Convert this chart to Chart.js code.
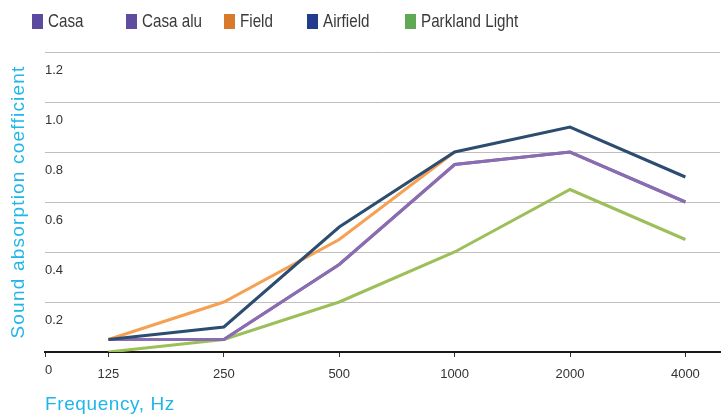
<!DOCTYPE html>
<html><head><meta charset="utf-8">
<script src="https://cdn.jsdelivr.net/npm/chart.js@4.4.1/dist/chart.umd.min.js"></script>
<style>
html,body{margin:0;padding:0;background:#fff;}
#wrap{position:relative;width:723px;height:416px;}
#legend{position:absolute;left:0;top:0;width:723px;height:44px;}
.li{position:absolute;top:10px;height:22px;display:flex;align-items:center;font-family:"Liberation Sans",Arial,sans-serif;font-size:19px;color:#3a3a3a;white-space:nowrap;}
.li i{display:inline-block;width:11px;height:15px;margin-right:5px;}
.li span{display:inline-block;transform:scaleX(0.8);transform-origin:left center;}
</style></head><body>
<div id="wrap"><canvas id="c" width="723" height="416"></canvas><div id="legend"></div></div>
<script>
// ---- data ----
const FREQUENCIES = ['125', '250', '500', '1000', '2000', '4000'];
const SERIES_NAMES = ['Casa', 'Casa alu', 'Field', 'Airfield', 'Parkland Light'];
const CASA = [0.05, 0.05, 0.35, 0.75, 0.80, 0.60];
const CASA_ALU = [0.05, 0.05, 0.35, 0.75, 0.80, 0.60];
const FIELD = [0.05, 0.20, 0.45, 0.80, null, null];
const AIRFIELD = [0.05, 0.10, 0.50, 0.80, 0.90, 0.70];
const PARKLAND_LIGHT = [0.00, 0.05, 0.20, 0.40, 0.65, 0.45];
const Y_MIN = 0, Y_MAX = 1.2, Y_STEP = 0.2;

// ---- styles ----
const LEGEND_COLORS = ['#5b4a9d', '#5f4ba0', '#d9792b', '#233b8c', '#5fa956'];
const LINE_COLORS = ['#8a6db0', '#8a6db0', '#f6a054', '#2c4c70', '#9cbf5a'];
const DRAW_ORDER = [4, 3, 2, 1, 5];
const LEGEND_X = [32, 126, 224, 307, 405];
const X_MIN = -0.55, X_MAX = 5.3;

const SERIES = [CASA, CASA_ALU, FIELD, AIRFIELD, PARKLAND_LIGHT];

const datasets = SERIES.map((vals, s) => ({
  label: SERIES_NAMES[s],
  data: vals.map((v, i) => ({ x: i, y: v })),
  borderColor: LINE_COLORS[s],
  backgroundColor: LEGEND_COLORS[s],
  borderWidth: 3,
  pointRadius: 0,
  tension: 0,
  fill: false,
  spanGaps: false,
  order: DRAW_ORDER[s]
}));

const titleSpacing = {
  id: 'titleSpacing',
  afterLayout(chart) {
    [['x', '0.6px'], ['y', '1.2px']].forEach(([id, sp]) => {
      const s = chart.scales[id];
      if (s && !s._spaced) {
        const orig = s.drawTitle.bind(s);
        s.drawTitle = function () {
          const ctx = this.ctx;
          ctx.save();
          ctx.letterSpacing = sp;
          orig();
          ctx.restore();
        };
        s._spaced = true;
      }
    });
  }
};

const chart = new Chart(document.getElementById('c'), {
  type: 'line',
  data: { datasets },
  plugins: [titleSpacing],
  options: {
    responsive: false,
    animation: false,
    devicePixelRatio: 1,
    layout: { padding: { top: 52, right: 3, left: 0, bottom: 0 } },
    plugins: { legend: { display: false }, tooltip: { enabled: false } },
    scales: {
      x: {
        type: 'linear',
        min: X_MIN,
        max: X_MAX,
        afterBuildTicks(scale) {
          scale.ticks = [{ value: X_MIN }].concat(FREQUENCIES.map((_, i) => ({ value: i })));
        },
        afterFit(scale) { scale.height = 64; },
        ticks: {
          autoSkip: false,
          maxRotation: 0,
          padding: 10,
          color: '#333',
          font: { family: 'Liberation Sans, Arial, sans-serif', size: 13 },
          callback: (v) => Number.isInteger(v) && v >= 0 ? FREQUENCIES[v] : ''
        },
        grid: { drawOnChartArea: false, drawTicks: true, tickLength: 5, color: '#333', lineWidth: 1 },
        border: { display: true, color: '#1a1a1a', width: 2 },
        title: {
          display: true,
          text: 'Frequency, Hz',
          align: 'start',
          color: '#1fb6e8',
          padding: { top: 0, bottom: 0 },
          font: { family: 'Liberation Sans, Arial, sans-serif', size: 19 }
        }
      },
      y: {
        min: Y_MIN,
        max: Y_MAX,
        afterFit(scale) { scale.width = 45; },
        ticks: {
          stepSize: Y_STEP,
          mirror: true,
          padding: 0,
          labelOffset: 18,
          color: '#333',
          font: { family: 'Liberation Sans, Arial, sans-serif', size: 13 },
          callback: (v) => (Math.abs(v) < 1e-9 ? '0' : Number(v).toFixed(1))
        },
        grid: { color: '#bfbfbf', lineWidth: 1, drawTicks: false },
        border: { display: false },
        title: {
          display: true,
          text: 'Sound absorption coefficient',
          color: '#1fb6e8',
          padding: { top: 7, bottom: 0 },
          font: { family: 'Liberation Sans, Arial, sans-serif', size: 19 }
        }
      }
    }
  }
});

// HTML legend built from the chart's datasets
const legend = document.getElementById('legend');
chart.data.datasets.forEach((ds, i) => {
  const el = document.createElement('div');
  el.className = 'li';
  el.style.left = LEGEND_X[i] + 'px';
  const box = document.createElement('i');
  box.style.background = LEGEND_COLORS[i];
  el.appendChild(box);
  const txt = document.createElement('span');
  txt.textContent = ds.label;
  el.appendChild(txt);
  legend.appendChild(el);
});
</script>
</body></html>
